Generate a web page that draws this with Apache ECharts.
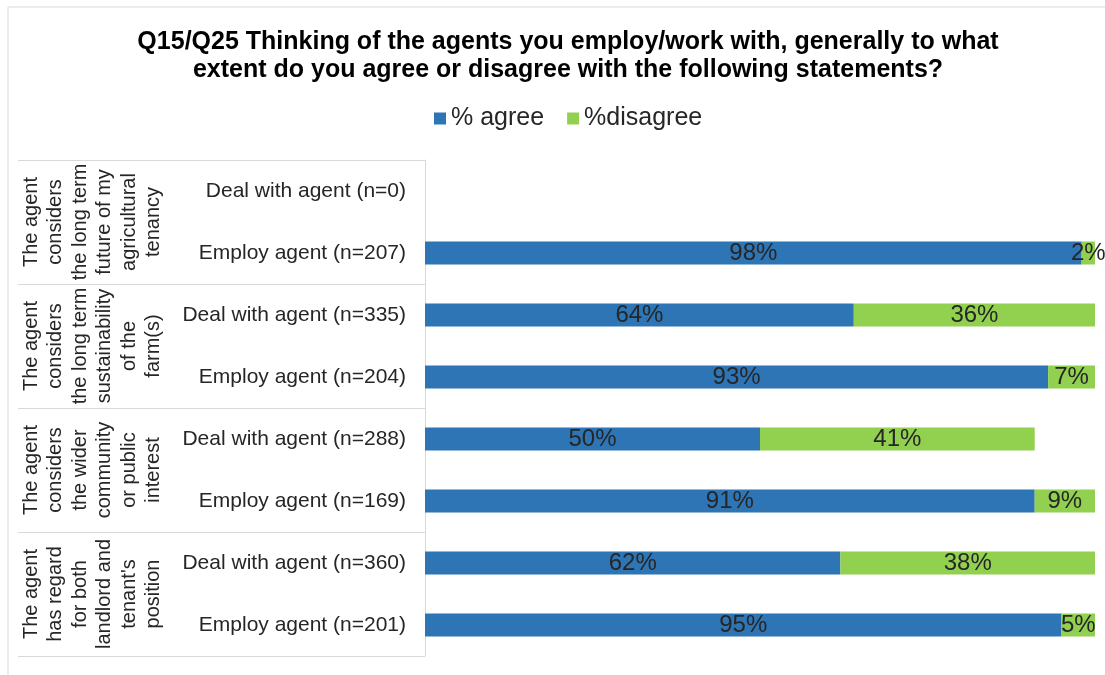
<!DOCTYPE html>
<html>
<head>
<meta charset="utf-8">
<script src="https://cdn.jsdelivr.net/npm/echarts@6/dist/echarts.min.js"></script>
<style>
  html, body { margin: 0; padding: 0; background: #fff; }
  #chart { width: 1105px; height: 675px; }
</style>
</head>
<body>
<div id="chart"></div>
<script>
// Statement groups (outer axis) and respondent rows (inner axis)
const groups = [
  'The agent\nconsiders\nthe long term\nfuture of my\nagricultural\ntenancy',
  'The agent\nconsiders\nthe long term\nsustainability\nof the\nfarm(s)',
  'The agent\nconsiders\nthe wider\ncommunity\nor public\ninterest',
  'The agent\nhas regard\nfor both\nlandlord and\ntenant\'s\nposition'
];
const categories = [
  'Deal with agent (n=0)',
  'Employ agent (n=207)',
  'Deal with agent (n=335)',
  'Employ agent (n=204)',
  'Deal with agent (n=288)',
  'Employ agent (n=169)',
  'Deal with agent (n=360)',
  'Employ agent (n=201)'
];
// Percentages per row (no responses for the n=0 row)
const agree    = [null, 98, 64, 93, 50, 91, 62, 95];
const disagree = [null, 2, 36, 7, 41, 9, 38, 5];

const FONT = '"Liberation Sans", Arial, sans-serif';
const TEXT = '#262626';
const RULE = '#d9d9d9';

const chart = echarts.init(document.getElementById('chart'), null, { renderer: 'canvas' });

const valueLabel = {
  show: true,
  position: 'inside',
  fontFamily: FONT,
  fontSize: 24,
  color: TEXT,
  formatter: p => (p.value == null ? '' : p.value + '%')
};

chart.setOption({
  animation: false,
  backgroundColor: '#fff',
  textStyle: { fontFamily: FONT },
  title: {
    text: 'Q15/Q25 Thinking of the agents you employ/work with, generally to what\nextent do you agree or disagree with the following statements?',
    left: 563,
    top: 23,
    textAlign: 'center',
    textStyle: { fontFamily: FONT, fontSize: 25, fontWeight: 'bold', color: '#000', lineHeight: 28 }
  },
  legend: {
    top: 101,
    left: 429,
    itemWidth: 12,
    itemHeight: 12,
    itemGap: 23,
    icon: 'rect',
    textStyle: { fontFamily: FONT, fontSize: 25, color: TEXT },
    data: ['% agree', '%disagree']
  },
  graphic: [{
    type: 'rect',
    silent: true,
    shape: { x: 8, y: 7, width: 1110, height: 700 },
    style: { fill: 'none', stroke: RULE, lineWidth: 1 }
  }],
  grid: { left: 425, right: 10, top: 160, bottom: 19, containLabel: false },
  xAxis: {
    type: 'value',
    min: 0,
    max: 100,
    show: false
  },
  yAxis: [
    {
      type: 'category',
      data: categories,
      inverse: true,
      axisLine: { show: false },
      axisTick: { show: false },
      axisLabel: { fontFamily: FONT, fontSize: 21, color: TEXT, margin: 19 }
    },
    {
      type: 'category',
      data: groups,
      inverse: true,
      position: 'left',
      axisLine: { show: true, lineStyle: { color: RULE, width: 1 } },
      axisTick: { show: true, interval: 0, length: 407, lineStyle: { color: RULE, width: 1 } },
      axisLabel: {
        rotate: 90,
        interval: 0,
        margin: 259,
        fontFamily: FONT,
        fontSize: 20,
        lineHeight: 24.5,
        color: TEXT,
        align: 'center'
      }
    }
  ],
  series: [
    {
      name: '% agree',
      type: 'bar',
      stack: 'total',
      yAxisIndex: 0,
      barWidth: 23,
      itemStyle: { color: '#2E75B6' },
      label: valueLabel,
      data: agree
    },
    {
      name: '%disagree',
      type: 'bar',
      stack: 'total',
      yAxisIndex: 0,
      barWidth: 23,
      itemStyle: { color: '#92D050' },
      label: valueLabel,
      data: disagree
    }
  ]
});
</script>
</body>
</html>
